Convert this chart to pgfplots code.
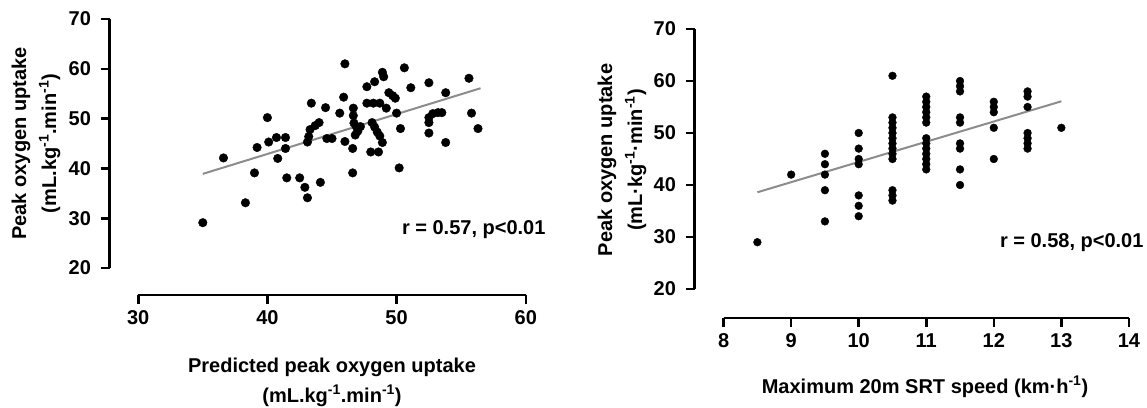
\documentclass[border=0pt]{standalone}
\usepackage{fontspec}
\setmainfont{Liberation Sans}
\usepackage{pgfplots}
\pgfplotsset{compat=1.18}
\definecolor{regline}{HTML}{8C8C8C}
\newcommand{\supr}[1]{\textsuperscript{#1}}
\pgfplotsset{
  prism/.style={
    scale only axis,
    axis x line=bottom, axis y line=left,
    axis line style={line width=2.6pt,-},
    tick align=outside, major tick length=9pt,
    every tick/.style={line width=2.6pt,black},
    minor tick num=0,
    tick label style={font=\fontsize{20}{22}\selectfont\bfseries},
    xticklabel style={yshift=-3pt},
    yticklabel style={xshift=-6pt},
    /pgf/number format/assume math mode=true,
    clip=false,
  }
}
\begin{document}
\begin{tikzpicture}[x=1pt,y=1pt]
\path[use as bounding box] (0,0) rectangle (1147,407);
% ---------------- left panel
\begin{axis}[prism,
  at={(138.2pt,139pt)}, anchor=south west,
  width=387.6pt, height=249pt,
  xmin=30, xmax=60, ymin=20, ymax=70,
  xtick={30,40,50,60}, ytick={20,30,40,50,60,70},
  axis x line shift=27pt, axis y line shift=28.7pt,
]
\addplot[regline, line width=2pt] coordinates {(35,38.9) (56.5,56.1)};
\addplot[only marks, mark=*, mark size=4.3pt, black] table {
x y
35.0 29.1
36.6 42.1
38.3 33.1
39.0 39.1
39.2 44.2
40.0 50.2
40.1 45.3
40.7 46.2
41.4 46.2
41.4 44.0
40.8 42.0
41.5 38.1
42.5 38.1
42.9 36.2
43.1 34.1
44.1 37.2
43.4 53.1
43.1 45.3
43.2 46.4
43.3 47.8
43.7 48.6
44.0 49.2
44.5 52.2
44.6 46.0
45.0 46.0
45.6 51.1
45.9 54.3
46.0 61.0
46.0 45.4
46.6 44.0
46.6 39.1
46.65 52.1
46.65 50.6
46.7 49.1
46.9 48.3
47.0 47.5
46.8 46.7
47.2 48.4
47.7 56.4
48.3 57.4
47.7 53.1
48.2 53.1
48.7 53.1
48.1 49.2
48.3 48.3
48.5 47.3
48.7 46.5
48.0 43.3
48.6 43.3
48.9 59.3
49.0 58.4
49.2 52.1
48.9 45.2
49.4 55.2
49.7 54.6
49.9 54.1
50.0 51.1
50.3 48.0
50.2 40.1
50.6 60.2
51.1 56.2
52.5 57.2
52.5 50.2
52.5 49.2
52.5 47.1
52.8 51.0
53.2 51.2
53.5 51.2
53.8 55.2
53.8 45.2
55.6 58.1
55.8 51.1
56.3 48.0
};
\end{axis}
% ---------------- right panel
\begin{axis}[prism,
  at={(723.6pt,118pt)}, anchor=south west,
  width=405.3pt, height=260pt,
  xmin=8, xmax=14, ymin=20, ymax=70,
  xtick={8,9,10,11,12,13,14}, ytick={20,30,40,50,60,70},
  axis x line shift=29pt, axis y line shift=29.1pt,
]
\addplot[regline, line width=2pt] coordinates {(8.5,38.6) (13,56.1)};
\addplot[only marks, mark=*, mark size=3.9pt, black] table {
x y
8.5 29
9 42
9.5 46
9.5 44
9.5 42
9.5 39
9.5 33
10 50
10 47
10 45
10 44
10 38
10 36
10 34
10.5 61
10.5 53
10.5 52
10.5 51
10.5 50
10.5 49
10.5 48
10.5 47
10.5 46
10.5 45
10.5 39
10.5 38
10.5 37
11 57
11 56
11 55
11 54
11 53
11 52
11 49
11 48
11 47
11 46
11 45
11 44
11 43
11.5 60
11.5 59
11.5 58
11.5 53
11.5 52
11.5 48
11.5 47
11.5 43
11.5 40
12 56
12 55
12 54
12 51
12 45
12.5 58
12.5 57
12.5 55
12.5 50
12.5 49
12.5 48
12.5 47
13 51
};
\end{axis}
% ---------------- labels
\begin{scope}[every node/.style={font=\fontsize{20}{30}\selectfont\bfseries, align=center}]
\node[rotate=90] at (36,263.5) {Peak oxygen uptake\\(mL.kg\supr{-1}.min\supr{-1})};
\node at (332,25) {Predicted peak oxygen uptake\\(mL.kg\supr{-1}.min\supr{-1})};
\node[anchor=east] at (549,177) {r = 0.57, p<0.01};
\node[rotate=90] at (622,247) {Peak oxygen uptake\\(mL·kg\supr{-1}·min\supr{-1})};
\node at (925,20) {Maximum 20m SRT speed (km·h\supr{-1})};
\node[anchor=east] at (1147,164) {r = 0.58, p<0.01};
\end{scope}
\end{tikzpicture}
\end{document}
